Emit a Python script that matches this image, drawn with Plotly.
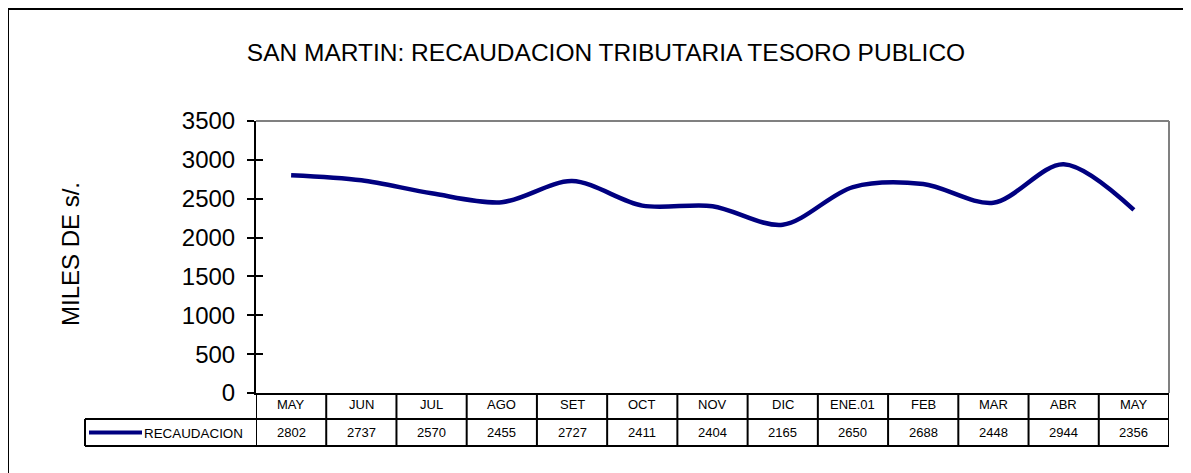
import plotly.graph_objects as go

months = ["MAY", "JUN", "JUL", "AGO", "SET", "OCT", "NOV", "DIC", "ENE.01", "FEB", "MAR", "ABR", "MAY"]
recaudacion = [2802, 2737, 2570, 2455, 2727, 2411, 2404, 2165, 2650, 2688, 2448, 2944, 2356]
series_name = "RECAUDACION"
title_text = "SAN MARTIN: RECAUDACION TRIBUTARIA TESORO PUBLICO"
y_title = "MILES DE s/."

# page body has an 8px margin: work in screen pixels, shift by OFF
OFF = 8
W, H = 1191 - OFF, 473 - OFF
L, R, T, B = 256 - OFF, 1169 - OFF, 121 - OFF, 393 - OFF
pw, ph = R - L, B - T

def px(xs_):
    return (xs_ - OFF - L) / pw

def py(ys_):
    return (B - (ys_ - OFF)) / ph

NAVY = "#000080"
FONT = "Liberation Sans, Arial, sans-serif"
xs = list(range(len(months)))

fig = go.Figure()
fig.add_trace(go.Scatter(
    x=xs, y=recaudacion, mode="lines", name=series_name,
    line=dict(color=NAVY, width=4.5, shape="spline", smoothing=0.9),
    showlegend=False, hoverinfo="x+y",
))
fig.add_trace(go.Scatter(x=[xs[0]], y=[0], yaxis="y2", mode="markers",
                         marker=dict(opacity=0), showlegend=False, hoverinfo="skip"))

shapes = []
shapes.append(dict(type="line", xref="paper", yref="paper", x0=0, x1=1, y0=1, y1=1,
                   line=dict(color="#808080", width=2)))
shapes.append(dict(type="line", xref="paper", yref="paper", x0=1, x1=1, y0=0, y1=1,
                   line=dict(color="#808080", width=2)))

y_hdr_bot = py(419)
y_val_bot = py(446)
x_lab_left = px(85)
for k in range(len(months) + 1):
    shapes.append(dict(type="line", xref="x", yref="paper", x0=k - 0.5, x1=k - 0.5,
                       y0=0, y1=y_val_bot, line=dict(color="black", width=2)))
shapes.append(dict(type="line", xref="paper", yref="paper", x0=x_lab_left, x1=1,
                   y0=y_hdr_bot, y1=y_hdr_bot, line=dict(color="black", width=2)))
shapes.append(dict(type="line", xref="paper", yref="paper", x0=x_lab_left, x1=1,
                   y0=y_val_bot, y1=y_val_bot, line=dict(color="black", width=2)))
shapes.append(dict(type="line", xref="paper", yref="paper", x0=x_lab_left, x1=x_lab_left,
                   y0=y_hdr_bot, y1=y_val_bot, line=dict(color="black", width=2)))
shapes.append(dict(type="line", xref="paper", yref="paper", x0=px(89), x1=px(142),
                   y0=py(432.5), y1=py(432.5), line=dict(color=NAVY, width=4)))
shapes.append(dict(type="rect", xref="paper", yref="paper", x0=px(8), x1=px(1220),
                   y0=py(500), y1=py(9), line=dict(color="black", width=2),
                   fillcolor="rgba(0,0,0,0)", layer="below"))

annotations = []
for k, (m, v) in enumerate(zip(months, recaudacion)):
    annotations.append(dict(x=k, y=py(404), xref="x", yref="paper", text=m, showarrow=False,
                            font=dict(size=13, color="black", family=FONT),
                            xanchor="center", yanchor="middle"))
    annotations.append(dict(x=k, y=py(432.5), xref="x", yref="paper", text=str(v), showarrow=False,
                            font=dict(size=13, color="black", family=FONT),
                            xanchor="center", yanchor="middle"))
annotations.append(dict(x=px(142), y=py(433), xref="paper", yref="paper", text=series_name,
                        showarrow=False, font=dict(size=13.4, color="black", family=FONT),
                        xanchor="left", yanchor="middle"))
annotations.append(dict(x=px(70), y=py(254), xref="paper", yref="paper", text=y_title,
                        showarrow=False, textangle=-90,
                        font=dict(size=24, color="black", family=FONT),
                        xanchor="center", yanchor="middle"))

fig.update_layout(
    width=W, height=H,
    margin=dict(l=L, r=W - R, t=T, b=H - B, pad=0),
    paper_bgcolor="white", plot_bgcolor="white",
    font=dict(family=FONT, color="black"),
    title=dict(text=title_text, x=(606 - OFF) / W, xanchor="center",
               y=1 - (52 - OFF) / H, yanchor="middle",
               xref="container", yref="container",
               font=dict(size=24.5, color="black", family=FONT)),
    xaxis=dict(range=[-0.5, len(months) - 0.5], showgrid=False, zeroline=False,
               showticklabels=False, ticks="", showline=True, linecolor="black", linewidth=2,
               fixedrange=True),
    yaxis=dict(range=[0, 3500], dtick=500, showgrid=False, zeroline=False,
               showline=True, linecolor="black", linewidth=2,
               ticks="outside", ticklen=7, tickwidth=2, tickcolor="black",
               tickfont=dict(size=24, color="black", family=FONT),
               ticklabelstandoff=7, fixedrange=True),
    yaxis2=dict(range=[0, 3500], dtick=500, overlaying="y", side="left",
                showgrid=False, zeroline=False, showline=False, showticklabels=False,
                ticks="inside", ticklen=7, tickwidth=2, tickcolor="black", fixedrange=True),
    shapes=shapes,
    annotations=annotations,
    showlegend=False,
)

fig.write_html("out.html")
